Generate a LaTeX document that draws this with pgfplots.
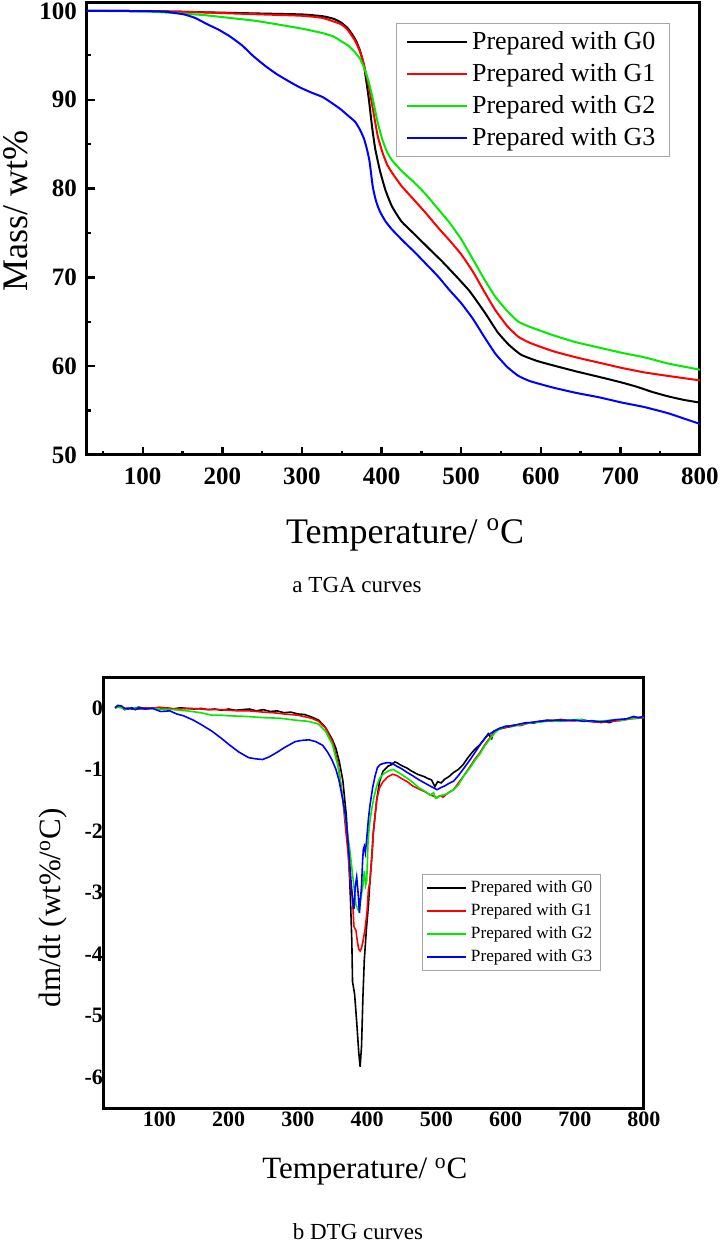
\documentclass[border=0pt]{standalone}
\usepackage{fontspec}
\setmainfont{Liberation Serif}
\usepackage{pgfplots}
\pgfplotsset{compat=1.18}
\definecolor{mygreen}{RGB}{0,235,0}
\begin{document}
\begin{tikzpicture}
\useasboundingbox (0,0) rectangle (360.5pt,622pt);
\begin{axis}[
  at={(43.5pt,394.5pt)}, anchor=south west,
  scale only axis, width=306.5pt, height=226.5pt,
  xmin=30, xmax=800, ymin=50, ymax=101,
  xtick={100,200,...,800}, ytick={50,60,...,100},
  minor xtick={50,150,...,750}, minor ytick={55,65,...,95},
  tick pos=left, tick align=inside,
  major tick length=4pt, minor tick length=2pt,
  every tick/.style={black, line width=1.2pt},
  axis line style={line width=1.5pt},
  /pgf/number format/assume math mode=true,
  ticklabel style={font=\fontsize{12.5}{12.5}\selectfont\bfseries},
  xticklabel style={yshift=-3pt},
  yticklabel style={xshift=-1.5pt},
  xlabel={Temperature/ \textsuperscript{o}C},
  ylabel={Mass/ wt\%},
  xlabel style={at={(axis description cs:0.519,-0.176)}, anchor=center, font=\fontsize{18}{18}\selectfont},
  ylabel style={at={(axis description cs:-0.116,0.539)}, anchor=center, font=\fontsize{18}{18}\selectfont},
  legend style={at={(0.951,0.954)}, anchor=north east, draw=gray!70, line width=0.5pt,
    font=\fontsize{13}{13}\selectfont, inner xsep=5pt, inner ysep=2pt, row sep=1.5pt, cells={anchor=west}},
  legend image code/.code={\draw[#1] (0pt,0pt) -- (30pt,0pt);},
  every axis plot/.append style={line width=1pt, smooth, tension=0.3},
]
\addplot[black] table {
30 100
100 99.98
150 99.9
200 99.8
250 99.7
300 99.6
326 99.4
340 99.1
349 98.7
358 98.0
367 96.8
373 95.5
378 93.8
384 90.1
388 87.0
392 84.5
398 82.0
405 79.8
413 78.0
425 76.3
442 74.8
460 73.2
476 71.8
495 70.0
511 68.4
530 66.0
546 63.8
560 62.4
575 61.3
595 60.6
615 60.1
645 59.4
673 58.8
700 58.2
720 57.7
740 57.1
760 56.6
780 56.2
800 55.9
};
\addplot[red] table {
30 100
100 99.98
150 99.9
200 99.75
250 99.6
300 99.45
326 99.2
349 98.5
358 97.8
367 96.6
373 95.4
378 93.9
384 91.5
389 89.0
395 86.0
401 84.1
407 82.7
413 81.8
425 80.3
442 78.6
456 77.2
471 75.6
485 74.2
500 72.6
515 70.6
529 68.4
543 66.3
558 64.5
572 63.3
587 62.6
615 61.7
644 61.0
673 60.4
702 59.8
730 59.3
760 58.9
800 58.4
};
\addplot[mygreen] table {
30 100
100 99.95
150 99.7
180 99.5
210 99.2
240 98.9
268 98.5
300 98.0
326 97.5
340 97.1
349 96.6
358 96.1
367 95.3
373 94.6
378 93.6
384 92.0
389 90.1
395 87.5
401 85.5
407 84.1
413 83.2
425 82.0
442 80.6
456 79.3
471 77.7
485 76.2
500 74.3
515 72.0
529 69.8
543 67.8
558 66.2
572 65.0
587 64.4
615 63.5
644 62.7
673 62.1
702 61.5
730 61.0
760 60.3
800 59.6
};
\addplot[blue] table {
30 100
100 99.98
129 99.9
152 99.6
166 99.2
181 98.5
195 97.9
210 97.1
225 96.1
239 94.9
254 93.8
268 92.9
283 92.1
297 91.4
312 90.8
326 90.3
338 89.6
349 88.9
358 88.2
367 87.5
373 86.6
378 85.6
382 84.3
385 83.0
389 80.2
393 78.6
398 77.4
405 76.3
413 75.4
427 74.1
442 72.8
456 71.5
471 70.1
485 68.6
500 67.1
515 65.3
529 63.3
543 61.4
558 59.9
572 58.9
587 58.3
615 57.6
644 57.0
673 56.5
702 55.9
730 55.4
760 54.7
780 54.1
800 53.5
};
\legend{Prepared with G0,Prepared with G1,Prepared with G2,Prepared with G3}
\end{axis}
\node[font=\fontsize{11.5}{11.5}\selectfont] at (178.5pt,329.5pt) {a TGA curves};

\begin{axis}[
  at={(52pt,68pt)}, anchor=south west,
  scale only axis, width=270pt, height=215.5pt,
  xmin=20, xmax=800, ymin=-6.5, ymax=0.5,
  xtick={100,200,...,800}, ytick={-6,-5,...,0},
  tick pos=left, major tick length=0pt,
  axis line style={line width=1.5pt},
  /pgf/number format/assume math mode=true,
  ticklabel style={font=\fontsize{11}{11}\selectfont\bfseries},
  xticklabel style={yshift=1.5pt},
  yticklabel style={xshift=3pt},
  xlabel={Temperature/ \textsuperscript{o}C},
  ylabel={dm/dt (wt\%/\textsuperscript{o}C)},
  xlabel style={at={(axis description cs:0.483,-0.148)}, anchor=center, font=\fontsize{15.5}{15.5}\selectfont},
  ylabel style={at={(axis description cs:-0.094,0.464)}, anchor=center, font=\fontsize{15.5}{15.5}\selectfont},
  legend style={at={(0.920,0.543)}, anchor=north east, draw=gray!70, line width=0.5pt,
    font=\fontsize{8.6}{8.6}\selectfont, inner xsep=2pt, inner ysep=1pt, row sep=0pt, cells={anchor=west}},
  legend image code/.code={\draw[#1] (0pt,0pt) -- (19.5pt,0pt);},
  every axis plot/.append style={line width=0.8pt},
]
\addplot[black] table {
36 0.0
40 0.03
45 0.01
50 -0.03
55 0.0
60 -0.02
70 0.01
80 -0.01
90 0.0
100 -0.01
110 0.0
120 -0.02
130 0.0
140 -0.01
150 -0.02
160 -0.01
170 -0.03
180 -0.02
190 -0.04
200 -0.02
210 -0.04
220 -0.03
230 -0.02
240 -0.05
250 -0.03
260 -0.06
270 -0.05
280 -0.08
290 -0.07
300 -0.10
310 -0.11
320 -0.15
330 -0.20
340 -0.32
350 -0.52
355 -0.66
360 -0.88
365 -1.18
370 -1.75
373 -2.3
376 -3.1
378 -3.8
379 -4.45
382 -4.65
385 -5.1
388 -5.6
390 -5.83
392 -5.5
394 -4.7
396 -4.1
399 -3.6
402 -3.2
404 -2.84
407 -2.4
409 -2.03
412 -1.7
414 -1.49
418 -1.2
423 -1.03
430 -0.95
436 -0.92
440 -0.88
443 -0.89
447 -0.92
452 -0.95
458 -0.98
463 -1.02
468 -1.05
473 -1.08
478 -1.1
483 -1.12
488 -1.15
493 -1.17
498 -1.28
502 -1.2
507 -1.22
512 -1.16
518 -1.12
525 -1.05
532 -1.0
539 -0.92
545 -0.82
552 -0.72
558 -0.65
563 -0.6
570 -0.5
575 -0.42
580 -0.5
583 -0.38
590 -0.35
600 -0.32
610 -0.3
620 -0.27
630 -0.24
640 -0.25
650 -0.22
660 -0.2
670 -0.21
680 -0.19
690 -0.2
700 -0.21
710 -0.19
720 -0.22
730 -0.23
740 -0.22
750 -0.24
760 -0.2
770 -0.19
780 -0.17
790 -0.16
800 -0.15
};
\addplot[red] table {
36 0.0
42 0.02
50 -0.01
60 0.0
70 -0.02
80 0.0
90 -0.01
100 0.01
115 -0.01
130 -0.02
145 -0.01
160 -0.02
175 -0.03
190 -0.03
200 -0.04
215 -0.05
230 -0.05
250 -0.07
265 -0.08
280 -0.10
300 -0.12
320 -0.17
330 -0.22
340 -0.33
350 -0.55
358 -0.9
365 -1.49
368 -1.85
372 -2.3
376 -2.85
379 -3.1
381 -3.55
384 -3.62
386 -3.8
388 -3.92
390 -3.95
392 -3.9
394 -3.8
397 -3.6
400 -3.3
402 -2.95
404 -2.84
405 -2.7
407 -2.4
409 -2.03
412 -1.7
414 -1.49
418 -1.3
423 -1.2
430 -1.12
437 -1.08
443 -1.1
450 -1.15
458 -1.2
466 -1.27
475 -1.32
483 -1.36
491 -1.41
497 -1.44
501 -1.46
505 -1.43
510 -1.45
515 -1.4
520 -1.36
525 -1.33
532 -1.22
540 -1.1
549 -0.95
556 -0.83
563 -0.73
570 -0.6
578 -0.48
585 -0.38
592 -0.33
600 -0.32
612 -0.28
622 -0.29
632 -0.25
645 -0.23
655 -0.21
668 -0.22
680 -0.2
695 -0.21
710 -0.2
725 -0.22
738 -0.24
750 -0.22
765 -0.21
780 -0.18
792 -0.17
800 -0.16
};
\addplot[mygreen] table {
36 0.0
42 0.01
50 -0.02
60 0.0
70 -0.01
80 -0.02
90 -0.01
100 -0.02
120 -0.03
140 -0.05
160 -0.08
176 -0.12
190 -0.12
200 -0.13
225 -0.14
250 -0.16
275 -0.17
296 -0.2
315 -0.22
329 -0.26
340 -0.38
350 -0.6
358 -0.95
365 -1.49
370 -1.9
375 -2.3
380 -2.8
384 -3.2
388 -3.3
391 -3.1
394.6 -2.84
396 -2.65
398 -2.88
399.5 -2.81
401.5 -2.14
404 -1.85
406.7 -1.65
410 -1.45
414 -1.27
418 -1.15
423 -1.08
430 -1.03
437.6 -1.0
445 -1.05
452 -1.1
460 -1.16
466.8 -1.22
475 -1.3
483 -1.35
491 -1.42
496 -1.38
499 -1.47
503 -1.45
508 -1.42
515 -1.4
525 -1.33
532 -1.25
540 -1.1
549 -0.97
556 -0.85
563 -0.75
570 -0.62
578 -0.5
585 -0.4
592 -0.34
600 -0.3
615 -0.29
628 -0.26
640 -0.24
652 -0.23
665 -0.21
678 -0.22
690 -0.2
705 -0.19
718 -0.21
730 -0.22
745 -0.21
758 -0.19
770 -0.2
783 -0.17
795 -0.16
800 -0.15
};
\addplot[blue] table {
36 0.0
40 0.04
45 0.03
50 -0.01
55 -0.02
60 0.0
65 -0.03
70 -0.01
80 -0.02
90 -0.01
102 -0.06
115 -0.05
125 -0.1
135 -0.13
149 -0.2
160 -0.27
176 -0.38
190 -0.5
202 -0.61
215 -0.72
229 -0.81
240 -0.83
249 -0.84
258 -0.8
269 -0.73
280 -0.65
296 -0.55
305 -0.53
316 -0.52
326 -0.55
336 -0.61
343 -0.72
349 -0.84
355 -1.0
359.5 -1.18
365 -1.5
369 -1.76
372 -2.1
377 -2.84
379 -3.1
381 -3.27
383 -2.9
385 -2.75
387 -3.0
389 -3.33
390.5 -3.1
392 -2.9
393.5 -2.5
394.6 -2.3
396 -2.25
397.5 -2.35
399.4 -2.14
402 -1.8
404 -1.6
408 -1.3
411.5 -1.11
415 -0.97
419 -0.92
425 -0.9
430 -0.89
436 -0.9
443 -0.95
450 -0.99
458 -1.05
466.8 -1.11
475 -1.17
483 -1.22
491 -1.27
496 -1.3
501 -1.33
506 -1.3
512 -1.27
518 -1.23
525 -1.19
532 -1.1
540 -0.98
549 -0.84
558.5 -0.68
565 -0.57
572 -0.47
578 -0.42
585 -0.37
592 -0.33
600 -0.3
610 -0.29
622 -0.26
635 -0.24
648 -0.22
660 -0.21
672 -0.2
686 -0.21
700 -0.2
712 -0.22
725 -0.21
738 -0.23
750 -0.21
762 -0.19
775 -0.18
785 -0.14
792 -0.16
800 -0.14
};
\legend{Prepared with G0,Prepared with G1,Prepared with G2,Prepared with G3}
\end{axis}
\node[font=\fontsize{11.5}{11.5}\selectfont] at (179pt,6pt) {b DTG curves};
\end{tikzpicture}
\end{document}
